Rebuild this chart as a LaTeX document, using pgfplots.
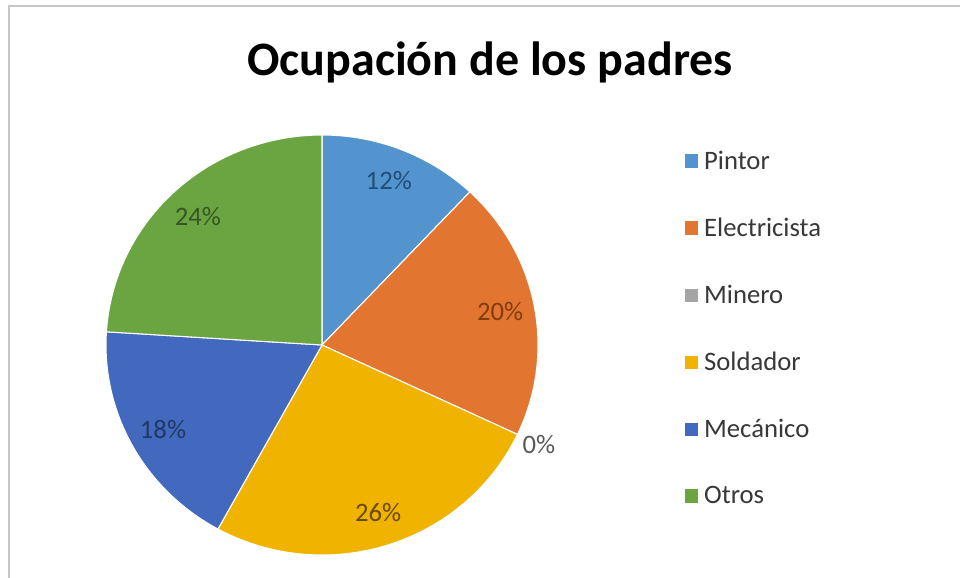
\documentclass[border=0pt]{standalone}
\usepackage{pgfplots}
\pgfplotsset{compat=1.18}
\usepackage{pgfplotstable}
\usepackage{fontspec}
\setmainfont{Carlito}

\definecolor{cPintor}{HTML}{5393CE}
\definecolor{cElec}{HTML}{E27530}
\definecolor{cMin}{HTML}{A5A5A5}
\definecolor{cSold}{HTML}{EFB300}
\definecolor{cMec}{HTML}{4269BD}
\definecolor{cOtros}{HTML}{6AA542}
\definecolor{tPintor}{HTML}{1F4E79}
\definecolor{tElec}{HTML}{843C0C}
\definecolor{tMin}{HTML}{595959}
\definecolor{tSold}{HTML}{6B4A00}
\definecolor{tMec}{HTML}{203864}
\definecolor{tOtros}{HTML}{375623}

% share of each occupation, clockwise from 12 o'clock
\pgfplotstableread[col sep=comma]{
name,value,fillcol,textcol
Pintor,12,cPintor,tPintor
Electricista,20,cElec,tElec
Minero,0,cMin,tMin
Soldador,26,cSold,tSold
Mecánico,18,cMec,tMec
Otros,24,cOtros,tOtros
}\piedata

\begin{document}
\begin{tikzpicture}[x=0.75pt,y=0.75pt]
\useasboundingbox (0,0) rectangle (960,578);
\fill[white] (0,0) rectangle (960,578);
\draw[black!22,line width=1.2pt] (9,0) -- (9,572) -- (960,572);
\node[font=\fontsize{36}{40}\selectfont\bfseries] at (490,516) {Ocupación de los padres};
\coordinate (piecenter) at (322,233);

\begin{axis}[
    at={(piecenter)}, anchor=center,
    width=324pt, height=315pt, scale only axis,
    xmin=-1, xmax=1, ymin=-1, ymax=1,
    hide axis, clip=false,
    legend cell align=left,
    legend image code/.code={\fill[#1,draw=none] (0pt,-5pt) rectangle (10pt,5pt);},
    legend style={draw=none, fill=none, at={(1.33,0.54)}, anchor=west,
        font=\fontsize{20}{24}\selectfont, text=black!78,
        row sep=31pt, nodes={inner xsep=4.5pt}},
]
\def\start{0}
\pgfplotsforeachungrouped \i in {0,...,5}{
    \pgfplotstablegetelem{\i}{value}\of\piedata \let\sliceval\pgfplotsretval
    \pgfplotstablegetelem{\i}{fillcol}\of\piedata \let\slicecol\pgfplotsretval
    \pgfplotstablegetelem{\i}{textcol}\of\piedata \let\labcol\pgfplotsretval
    \pgfplotstablegetelem{\i}{name}\of\piedata \let\slicename\pgfplotsretval
    \pgfmathsetmacro\aone{90-3.6*\start}
    \pgfmathsetmacro\atwo{90-3.6*(\start+\sliceval)}
    \pgfmathsetmacro\amid{(\aone+\atwo)/2}
    \pgfmathtruncatemacro\pct{\sliceval}
    \ifdim\sliceval pt>0pt
        \def\k{0.84}
        \edef\cmd{\noexpand\addplot[fill=\slicecol, draw=white, line width=0.8pt,
            domain=\atwo:\aone, samples=80]
            ({cos(x)},{sin(x)}) -- (axis cs:0,0) -- cycle;
            \noexpand\addlegendentry{\slicename}}
    \else
        \def\k{1.11}
        \edef\cmd{\noexpand\addlegendimage{fill=\slicecol}
            \noexpand\addlegendentry{\slicename}}
    \fi
    \cmd
    \pgfmathsetmacro\lx{\k*cos(\amid)}
    \pgfmathsetmacro\ly{\k*sin(\amid)}
    \edef\cmd{\noexpand\node[text=\labcol, font=\noexpand\fontsize{20}{24}\noexpand\selectfont]
        at (axis cs:\lx,\ly) {\pct\noexpand\%};}
    \cmd
    \pgfmathsetmacro\start{\start+\sliceval}
}
\end{axis}
\end{tikzpicture}
\end{document}
